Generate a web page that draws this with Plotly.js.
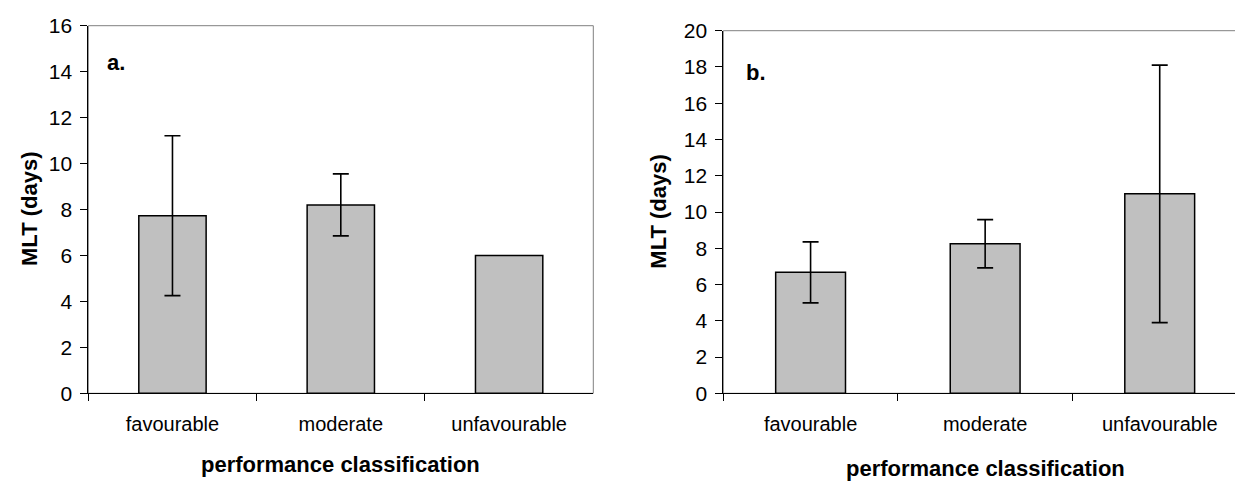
<!DOCTYPE html>
<html>
<head>
<meta charset="utf-8">
<script src="https://cdn.plot.ly/plotly-3.0.1.min.js"></script>
<style>
  html, body { margin: 0; padding: 0; background: #ffffff; overflow: hidden; }
  #chart { width: 1250px; height: 481px; }
</style>
</head>
<body>
<div id="chart"></div>
<script>
// ---- data ----
const categories = ['favourable', 'moderate', 'unfavourable'];
const mltA = [7.73, 8.2, 6.0];
const errA = [3.48, 1.35, null];   // no error bar on "unfavourable" in panel a
const mltB = [6.67, 8.25, 11.0];
const errB = [1.68, 1.33, 7.1];
const yTicksA = [0, 2, 4, 6, 8, 10, 12, 14, 16];
const yTicksB = [0, 2, 4, 6, 8, 10, 12, 14, 16, 18, 20];
const panelLabels = ['a.', 'b.'];
const xTitle = 'performance classification';
const yTitle = 'MLT (days)';

// ---- layout helpers ----
const W = 1250, H = 481;
const FONT = 'Liberation Sans, Arial, Helvetica, sans-serif';
const px = v => v / W;
const py = v => (H - v) / H;

function barTrace(values, errs, xa, ya) {
  return {
    type: 'bar',
    x: categories,
    y: values,
    xaxis: xa, yaxis: ya,
    marker: { color: '#c0c0c0', line: { color: '#000000', width: 1.5 } },
    error_y: {
      type: 'data', symmetric: true,
      array: errs.map(v => (v === null ? NaN : v)),
      color: '#000000', thickness: 1.6, width: 8
    },
    hoverinfo: 'skip',
    showlegend: false
  };
}

function xAxis(domain, anchor) {
  return {
    domain: domain, anchor: anchor, type: 'category',
    range: [-0.5, 2.5],
    showline: true, linecolor: '#000000', linewidth: 1,
    ticks: 'outside', tickson: 'boundaries', ticklen: 7, tickcolor: '#000000', tickwidth: 1,
    ticklabelstandoff: 13,
    tickfont: { family: FONT, size: 20, color: '#000000' },
    showgrid: false, zeroline: false, fixedrange: true
  };
}
function yAxis(domain, anchor, ticks, max) {
  return {
    domain: domain, anchor: anchor,
    range: [0, max], tickvals: ticks, ticktext: ticks.map(String),
    showline: true, linecolor: '#000000', linewidth: 1,
    ticks: 'outside', ticklen: 7, tickcolor: '#000000', tickwidth: 1,
    ticklabelstandoff: 4,
    tickfont: { family: FONT, size: 21, color: '#000000' },
    showgrid: false, zeroline: false, fixedrange: true
  };
}

const data = [
  barTrace(mltA, errA, 'x', 'y'),
  barTrace(mltB, errB, 'x2', 'y2')
];

const boldFont = { family: FONT, size: 22, color: '#000000' };

const layout = {
  width: W, height: H,
  margin: { l: 0, r: 0, t: 0, b: 0 },
  paper_bgcolor: '#ffffff', plot_bgcolor: '#ffffff',
  bargap: 0.6,
  showlegend: false,
  xaxis: xAxis([px(88.3), px(593.3)], 'y'),
  yaxis: yAxis([py(393.3), py(25.7)], 'x', yTicksA, 16),
  xaxis2: xAxis([px(723.3), px(1247)], 'y2'),
  yaxis2: yAxis([py(393.3), py(30.7)], 'x2', yTicksB, 20),
  shapes: [
    { type: 'rect', xref: 'x domain', yref: 'y domain', x0: 0, x1: 1, y0: 0, y1: 1,
      line: { color: '#808080', width: 1 }, layer: 'below' },
    { type: 'rect', xref: 'x2 domain', yref: 'y2 domain', x0: 0, x1: 1, y0: 0, y1: 1,
      line: { color: '#808080', width: 1 }, layer: 'below' }
  ],
  annotations: [
    { text: '<b>' + xTitle + '</b>', xref: 'paper', yref: 'paper', x: px(340.8), y: py(464),
      xanchor: 'center', yanchor: 'middle', showarrow: false, font: boldFont },
    { text: '<b>' + xTitle + '</b>', xref: 'paper', yref: 'paper', x: px(985), y: py(468),
      xanchor: 'center', yanchor: 'middle', showarrow: false, font: boldFont },
    { text: '<b>' + yTitle + '</b>', xref: 'paper', yref: 'paper', x: px(30), y: py(209),
      xanchor: 'center', yanchor: 'middle', textangle: -90, showarrow: false, font: boldFont },
    { text: '<b>' + yTitle + '</b>', xref: 'paper', yref: 'paper', x: px(659), y: py(211.7),
      xanchor: 'center', yanchor: 'middle', textangle: -90, showarrow: false, font: boldFont },
    { text: '<b>' + panelLabels[0] + '</b>', xref: 'paper', yref: 'paper', x: px(116), y: py(62),
      xanchor: 'center', yanchor: 'middle', showarrow: false, font: boldFont },
    { text: '<b>' + panelLabels[1] + '</b>', xref: 'paper', yref: 'paper', x: px(756), y: py(73),
      xanchor: 'center', yanchor: 'middle', showarrow: false, font: boldFont }
  ]
};

Plotly.newPlot('chart', data, layout, { staticPlot: true, displayModeBar: false });
</script>
</body>
</html>
